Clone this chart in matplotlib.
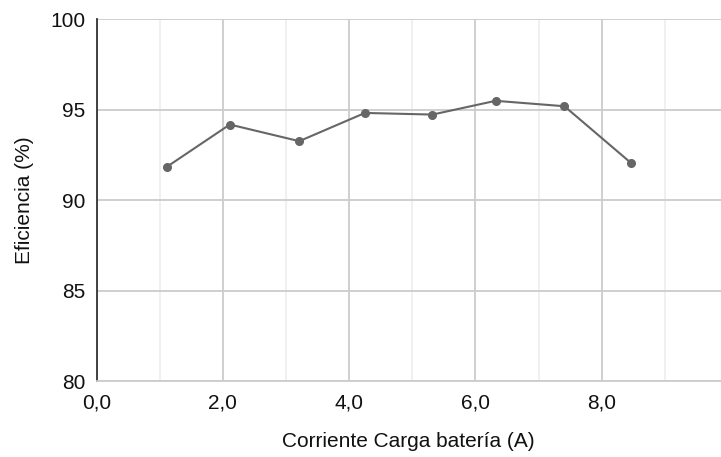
import matplotlib
matplotlib.use("Agg")
import matplotlib.pyplot as plt
from matplotlib.ticker import FuncFormatter, MultipleLocator

# data
corriente = [1.12, 2.11, 3.21, 4.25, 5.32, 6.32, 7.41, 8.47]
eficiencia = [91.86, 94.18, 93.26, 94.82, 94.73, 95.49, 95.19, 92.04]

x_ticks = [0, 2, 4, 6, 8]
y_ticks = [80, 85, 90, 95, 100]

plt.rcParams['font.family'] = ['Liberation Sans', 'DejaVu Sans']

fig = plt.figure(figsize=(7.21, 4.57), dpi=100)
ax = fig.add_axes([0.134, 0.166, 0.866, 0.792])

ax.plot(corriente, eficiencia, color='#666666', linewidth=1.5,
        marker='o', markersize=5.5, zorder=3, clip_on=False)

ax.set_xlim(0, 9.89)
ax.set_ylim(80, 100)
ax.set_xticks(x_ticks)
ax.set_yticks(y_ticks)
ax.xaxis.set_minor_locator(MultipleLocator(1))
ax.xaxis.set_major_formatter(FuncFormatter(lambda v, p: f'{v:.1f}'.replace('.', ',')))

ax.grid(True, which='major', color='#cccccc', linewidth=1.3)
ax.grid(True, which='minor', axis='x', color='#eeeeee', linewidth=1.2)
ax.set_axisbelow(True)

for side in ['top', 'right']:
    ax.spines[side].set_visible(False)
ax.spines['bottom'].set_color('#cccccc')
ax.spines['bottom'].set_linewidth(1.3)
ax.spines['left'].set_color('#333333')
ax.spines['left'].set_linewidth(1.3)

ax.tick_params(which='both', length=0, labelsize=15, colors='#111111')
ax.tick_params(axis='y', pad=8)
ax.tick_params(axis='x', pad=9)

ax.set_xlabel('Corriente Carga batería (A)', fontsize=15, color='#111111', labelpad=14)
ax.set_ylabel('Eficiencia (%)', fontsize=15, color='#111111', labelpad=12)

fig.savefig('out.png', dpi=100)
